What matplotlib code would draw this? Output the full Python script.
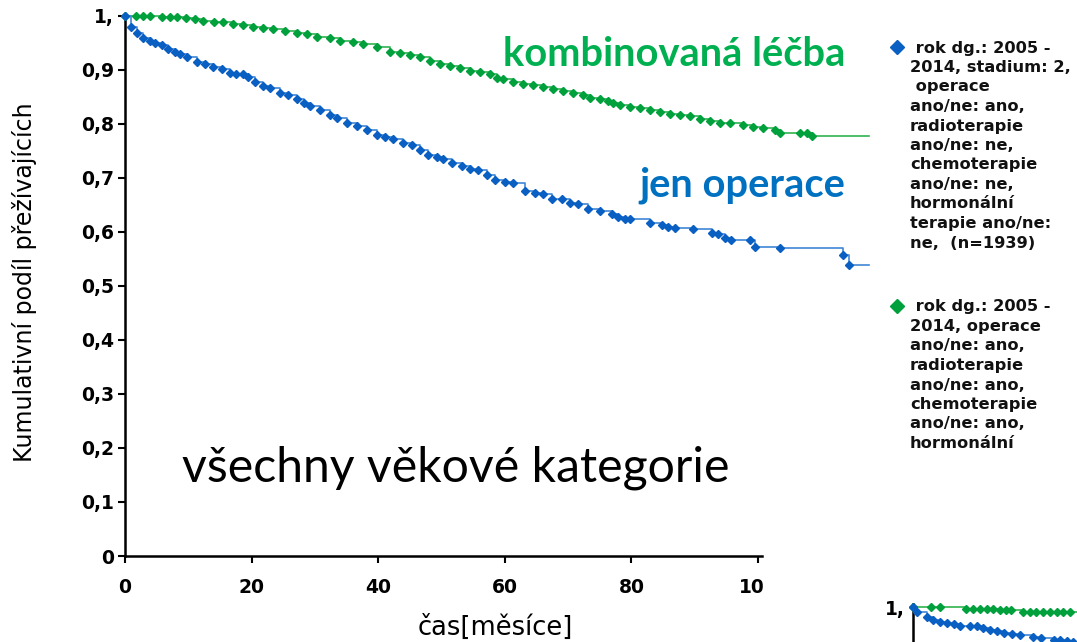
import matplotlib
matplotlib.use("Agg")
import matplotlib.pyplot as plt
from matplotlib.patches import Rectangle

# --- data (time in months, cumulative survival) ---
t_oper = [0, 1.0, 1.9, 2.9, 3.9, 4.7, 5.8, 6.8, 7.9, 8.7, 9.8, 11.3, 12.6, 13.9, 15.3, 16.6,
          17.6, 18.6, 19.5, 20.5, 21.8, 22.9, 24.5, 25.8, 27.1, 28.2, 29.2, 30.8, 32.4, 33.5,
          35.1, 36.6, 38.2, 39.8, 41.0, 42.3, 43.9, 45.3, 46.6, 47.9, 49.3, 50.2, 51.7, 53.2,
          54.5, 55.8, 57.2, 58.5, 60.0, 61.3, 63.2, 64.8, 66.0, 67.5, 69.0, 70.3, 71.6, 73.1,
          75.0, 76.9, 77.9, 79.0, 79.8, 82.9, 84.8, 85.8, 86.9, 89.7, 92.7, 93.7, 94.8, 95.7,
          98.7, 99.5, 103.5, 113.4, 114.4]
s_oper = [1.0, 0.980, 0.969, 0.959, 0.953, 0.950, 0.946, 0.939, 0.933, 0.930, 0.924, 0.915,
          0.911, 0.906, 0.902, 0.894, 0.893, 0.893, 0.887, 0.878, 0.870, 0.867, 0.858, 0.854,
          0.846, 0.839, 0.833, 0.826, 0.817, 0.811, 0.802, 0.796, 0.789, 0.780, 0.776, 0.772,
          0.765, 0.761, 0.751, 0.743, 0.738, 0.735, 0.728, 0.722, 0.716, 0.714, 0.706, 0.696,
          0.693, 0.691, 0.676, 0.673, 0.670, 0.662, 0.661, 0.654, 0.652, 0.642, 0.638, 0.634,
          0.627, 0.625, 0.624, 0.617, 0.613, 0.610, 0.608, 0.606, 0.599, 0.596, 0.589, 0.585,
          0.585, 0.573, 0.570, 0.557, 0.539]
t_oper_end = 117.6

t_komb = [0, 1.8, 2.9, 3.9, 5.8, 7.1, 8.2, 9.7, 11.1, 12.4, 14.0, 15.5, 17.1, 18.7, 20.3,
          21.8, 23.4, 25.3, 27.1, 28.7, 30.3, 32.4, 34.0, 36.0, 37.6, 39.8, 41.9, 43.4, 45.0,
          46.6, 48.2, 49.8, 51.3, 52.9, 54.5, 56.1, 57.7, 58.8, 59.7, 61.3, 62.9, 64.5, 66.0,
          67.6, 69.2, 70.8, 72.4, 73.5, 75.0, 76.3, 77.1, 78.2, 79.8, 81.4, 82.9, 84.5, 86.1,
          87.7, 89.3, 90.8, 92.4, 94.0, 95.6, 97.6, 99.2, 100.8, 102.7, 103.5, 106.6, 107.7,
          108.5]
s_komb = [1.0, 1.0, 1.0, 1.0, 0.999, 0.999, 0.998, 0.996, 0.994, 0.991, 0.989, 0.988, 0.985,
          0.983, 0.980, 0.978, 0.976, 0.972, 0.969, 0.966, 0.962, 0.959, 0.954, 0.951, 0.948,
          0.943, 0.934, 0.931, 0.928, 0.924, 0.917, 0.912, 0.907, 0.904, 0.899, 0.896, 0.893,
          0.886, 0.883, 0.878, 0.875, 0.872, 0.869, 0.864, 0.861, 0.857, 0.854, 0.848, 0.846,
          0.843, 0.839, 0.836, 0.832, 0.829, 0.826, 0.822, 0.819, 0.817, 0.814, 0.809, 0.806,
          0.802, 0.801, 0.799, 0.795, 0.792, 0.789, 0.784, 0.784, 0.783, 0.778]
t_komb_end = 117.6

# small chart peeking in at the bottom right
t_inset_oper = [0, 0.6, 2.2, 3.2, 4.3, 5.3, 6.4, 7.4, 9.0, 10.1, 11.1, 12.2, 13.2, 14.3, 15.6,
                16.9, 19.0, 20.3, 22.2, 23.2, 24.3, 25.3]
s_inset_oper = [1.0, 0.991, 0.982, 0.976, 0.973, 0.971, 0.969, 0.964, 0.964, 0.964, 0.961,
                0.958, 0.955, 0.952, 0.950, 0.949, 0.944, 0.942, 0.939, 0.938, 0.937, 0.936]
t_inset_komb = [0, 2.9, 4.2, 8.4, 9.5, 10.6, 11.7, 12.6, 13.7, 14.7, 15.5, 17.4, 18.5, 19.5,
                20.5, 21.6, 22.7, 23.7, 24.8]
s_inset_komb = [1.0, 1.0, 1.0, 0.996, 0.996, 0.996, 0.996, 0.996, 0.995, 0.995, 0.995, 0.991,
                0.991, 0.991, 0.990, 0.990, 0.990, 0.990, 0.990]

y_ticks = [0, 0.1, 0.2, 0.3, 0.4, 0.5, 0.6, 0.7, 0.8, 0.9, 1.0]
y_ticklabels = ["0", "0,1", "0,2", "0,3", "0,4", "0,5", "0,6", "0,7", "0,8", "0,9", "1,"]
x_ticks = [0, 20, 40, 60, 80, 100]

legend_oper = [" rok dg.: 2005 -", "2014, stadium: 2,", " operace", "ano/ne: ano,",
               "radioterapie", "ano/ne: ne,", "chemoterapie", "ano/ne: ne,", "hormonální",
               "terapie ano/ne:", "ne,  (n=1939)"]
legend_komb = [" rok dg.: 2005 -", "2014, operace", "ano/ne: ano,", "radioterapie",
               "ano/ne: ano,", "chemoterapie", "ano/ne: ano,", "hormonální", "terapie ano/ne:"]

BLUE = "#0a5fc2"
BLUE_LINE = "#3f86d6"
GREEN = "#00a03c"
GREEN_LINE = "#2fb34f"

W, H = 1077, 642
fig = plt.figure(figsize=(W / 100, H / 100), dpi=100)


def fx(px):
    return px / W


def fy(py):
    return 1 - py / H


def km(ax, t, s, t_end, line_col, mark_col, ms):
    ax.step(list(t) + [t_end], list(s) + [s[-1]], where="post", color=line_col, lw=1.2,
            clip_on=False, zorder=3)
    ax.plot(t, s, ls="none", marker="D", ms=ms, color=mark_col, mec=mark_col,
            clip_on=False, zorder=4)


ax = fig.add_axes([fx(125), fy(556), fx(762) - fx(125), fy(16) - fy(556)])
km(ax, t_komb, s_komb, t_komb_end, GREEN_LINE, GREEN, 4.5)
km(ax, t_oper, s_oper, t_oper_end, BLUE_LINE, BLUE, 4.5)
ax.set_xlim(0, (762 - 125) / 6.33)
ax.set_ylim(0, 1)
for sp in ["top", "right"]:
    ax.spines[sp].set_visible(False)
for sp in ["left", "bottom"]:
    ax.spines[sp].set_linewidth(1.8)
ax.set_yticks(y_ticks)
ax.set_yticklabels(y_ticklabels, fontsize=13.5, fontweight="bold")
ax.set_xticks(x_ticks)
ax.set_xticklabels([str(v) for v in x_ticks], fontsize=13.5, fontweight="bold")
ax.tick_params(direction="out", length=5, width=1.5, pad=3)
ax.tick_params(axis="x", pad=11)

fig.text(fx(25), fy(282), "Kumulativní podíl přežívajících", rotation=90, fontsize=17,
         ha="center", va="center")
fig.text(fx(495), fy(628), "čas[měsíce]", fontsize=18.5, ha="center", va="center")

fig.text(fx(503), fy(55), "kombinovaná léčba", fontsize=28.7, fontweight="bold",
         family="Lato", color="#00b050", va="center", ha="left")
fig.text(fx(845), fy(185), "jen operace", fontsize=28.7, fontweight="bold",
         family="Lato", color="#0070c0", va="center", ha="right")
fig.text(fx(182), fy(468), "všechny věkové kategorie", fontsize=34.7, family="Lato",
         color="black", va="center", ha="left")

# cut-off "100" tick label
fig.add_artist(Rectangle((fx(763), fy(600)), fx(95), fy(570) - fy(600),
                         transform=fig.transFigure, color="white", zorder=10))

# legend text on the right
fig.add_artist(plt.Line2D([fx(897)], [fy(47)], marker="D", ms=7, color=BLUE,
                          transform=fig.transFigure))
for i, line in enumerate(legend_oper):
    fig.text(fx(910), fy(48 + 19.5 * i), line, fontsize=11.7, fontweight="bold",
             va="center", ha="left", color="#111111")
fig.add_artist(plt.Line2D([fx(897)], [fy(306)], marker="D", ms=7, color=GREEN,
                          transform=fig.transFigure))
for i, line in enumerate(legend_komb):
    fig.text(fx(910), fy(307 + 19.5 * i), line, fontsize=11.7, fontweight="bold",
             va="center", ha="left", color="#111111")
fig.add_artist(Rectangle((fx(870), fy(590)), fx(207), fy(454) - fy(590),
                         transform=fig.transFigure, color="white", zorder=10))

# inset chart at the bottom right
ax2 = fig.add_axes([fx(913), fy(661), fx(1077 + 20) - fx(913), fy(604) - fy(661)])
km(ax2, t_inset_komb, s_inset_komb, 30, GREEN_LINE, GREEN, 4.5)
km(ax2, t_inset_oper, s_inset_oper, 30, BLUE_LINE, BLUE, 4.5)
ax2.set_xlim(0, (1097 - 913) / 6.33)
ax2.set_ylim(0.9, 1.0 + 3 / 540)
for sp in ["top", "right", "bottom"]:
    ax2.spines[sp].set_visible(False)
ax2.spines["left"].set_linewidth(1.8)
ax2.set_xticks([])
ax2.set_yticks([1.0])
ax2.set_yticklabels(["1,"], fontsize=13.5, fontweight="bold")
ax2.tick_params(direction="out", length=0, width=1.5, pad=6)

fig.savefig("out.png", dpi=100)
